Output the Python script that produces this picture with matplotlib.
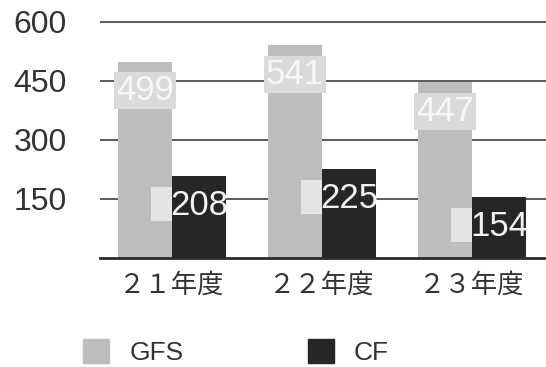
import matplotlib
matplotlib.use("Agg")
import matplotlib.pyplot as plt
import numpy as np
from matplotlib.patches import Rectangle
from matplotlib.transforms import ScaledTranslation, IdentityTransform

plt.rcParams['font.family'] = ['Liberation Sans', 'Noto Sans CJK JP', 'DejaVu Sans']

categories = ['２１年度', '２２年度', '２３年度']
gfs = [499, 541, 447]
cf = [208, 225, 154]
yticks = [150, 300, 450, 600]
series_names = ['GFS', 'CF']

gfs_color = '#bdbdbd'
cf_color = '#262626'
label_box = '#dadada'
key_color = '#e4e4e4'
text_dark = '#333333'

fig = plt.figure(figsize=(5.46, 3.67), dpi=100)
ax = fig.add_axes([100/546, 1 - 258/367, 446/546, (258 - 19.6)/367])

x = np.arange(len(categories))
w = 0.36
ax.bar(x - w/2, gfs, width=w, color=gfs_color, zorder=2)
ax.bar(x + w/2, cf, width=w, color=cf_color, zorder=2)

ax.set_xlim(-0.48, 2.493)
ax.set_ylim(0, 606)
ax.set_yticks(yticks)
ax.set_yticklabels([str(t) for t in yticks], fontsize=23, color=text_dark)
ax.set_xticks(x)
ax.set_xticklabels(categories, fontsize=19, color=text_dark,
                   family=['Noto Sans CJK JP', 'DejaVu Sans'])
ax.tick_params(axis='y', length=0, pad=24)
ax.tick_params(axis='x', length=0, pad=10)
for s in ['left', 'right', 'top']:
    ax.spines[s].set_visible(False)
ax.spines['bottom'].set_color('#2a2a2a')
ax.spines['bottom'].set_linewidth(2.0)
ax.spines['bottom'].set_zorder(3)
ax.yaxis.grid(True, color='#2e2e2e', linewidth=1.1, zorder=0)
ax.set_axisbelow(True)

# GFS labels
for xi, v in zip(x, gfs):
    ax.annotate(str(v), (xi - w/2, v), xytext=(0, -21), textcoords='offset points',
                ha='center', va='center', fontsize=25, color='#f7f7f7', zorder=4,
                bbox=dict(boxstyle='square,pad=0.06', facecolor=label_box, edgecolor='none'))

# CF labels with legend-key squares (sized in pixels, anchored at the data point)
for xi, v in zip(x, cf):
    ax.annotate(str(v), (xi + w/2, v), xytext=(0, -21), textcoords='offset points',
                ha='center', va='center', fontsize=25, color='#f2f2f2', zorder=4)
    tr = IdentityTransform() + ScaledTranslation(xi, v, ax.transData)
    ax.add_patch(Rectangle((-21, -45), 21, 34, transform=tr, facecolor=key_color,
                           edgecolor='none', zorder=3, clip_on=False))

handles = [Rectangle((0, 0), 1, 1, color=gfs_color), Rectangle((0, 0), 1, 1, color=cf_color)]
leg = fig.legend(handles, series_names, loc='center', bbox_to_anchor=(236/546, 1 - 352/367),
                 ncol=2, frameon=False, fontsize=19, handlelength=1.0, handleheight=1.0,
                 handletextpad=0.76, columnspacing=4.7, borderpad=0, borderaxespad=0)
for t in leg.get_texts():
    t.set_color(text_dark)

fig.savefig('out.png', dpi=100)
